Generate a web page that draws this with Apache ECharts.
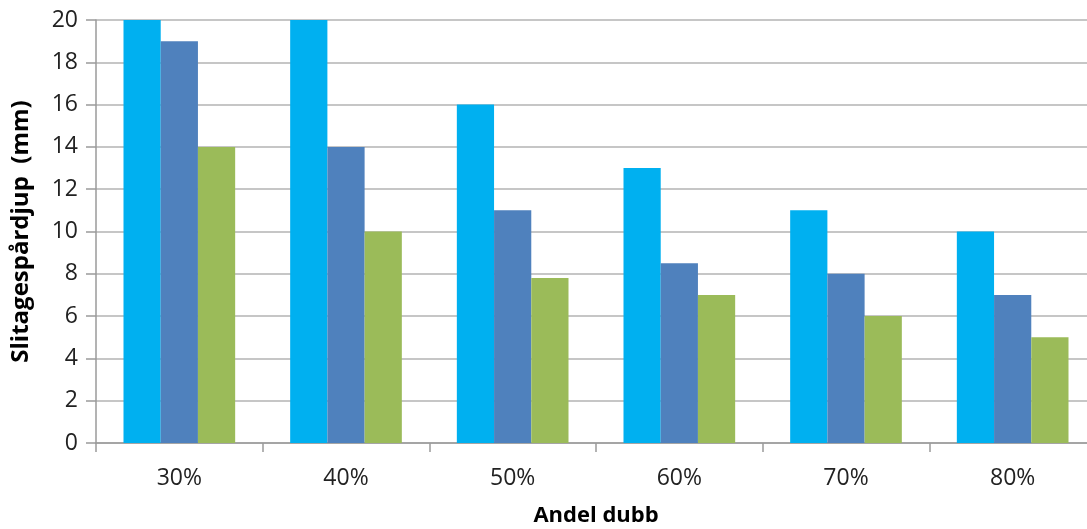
<!DOCTYPE html>
<html><head><meta charset="utf-8">
<script src="https://cdn.jsdelivr.net/npm/echarts@6/dist/echarts.min.js"></script>
<style>html,body{margin:0;padding:0;background:#fff;overflow:hidden}#c{width:1110px;height:529px}</style>
</head><body><div id="c"></div>
<script>
var categories = ['30%','40%','50%','60%','70%','80%'];
var seriesA = [20, 20, 16, 13, 11, 10];
var seriesB = [19, 14, 11, 8.5, 8, 7];
var seriesC = [14, 10, 7.8, 7, 6, 5];
var yTicks = {min: 0, max: 20, interval: 2};

var chart = echarts.init(document.getElementById('c'), null, {renderer: 'canvas'});
var font = 'Open Sans';
chart.setOption({
  animation: false,
  grid: {left: 96, top: 20, width: 1000, height: 423, containLabel: false, outerBoundsMode: 'none'},
  xAxis: {
    type: 'category', data: categories,
    name: 'Andel dubb', nameLocation: 'middle', nameGap: 62,
    nameTextStyle: {fontFamily: font, fontWeight: 'bold', fontSize: 22, color: '#000'},
    axisLine: {lineStyle: {color: '#9a9a9a', width: 1.5}},
    axisTick: {show: true, length: 9, alignWithLabel: false, lineStyle: {color: '#9a9a9a', width: 1.5}},
    axisLabel: {fontFamily: font, fontSize: 23, color: '#222', margin: 24}
  },
  yAxis: {
    type: 'value', min: yTicks.min, max: yTicks.max, interval: yTicks.interval,
    name: 'Slitagespårdjup  (mm)', nameLocation: 'middle', nameGap: 63, nameRotate: 90,
    nameTextStyle: {fontFamily: font, fontWeight: 'bold', fontSize: 24, color: '#000'},
    axisLine: {show: true, lineStyle: {color: '#9a9a9a', width: 1.5}},
    axisTick: {show: true, length: 10, lineStyle: {color: '#9a9a9a', width: 1.5}},
    axisLabel: {fontFamily: font, fontSize: 23, color: '#222', margin: 18},
    splitLine: {lineStyle: {color: '#b3b3b3', width: 1.5}}
  },
  series: [
    {type: 'bar', data: seriesA, itemStyle: {color: '#00B0F0'}, barGap: '0%', barCategoryGap: '33%'},
    {type: 'bar', data: seriesB, itemStyle: {color: '#4F81BD'}},
    {type: 'bar', data: seriesC, itemStyle: {color: '#9BBB59'}}
  ]
});
</script></body></html>
